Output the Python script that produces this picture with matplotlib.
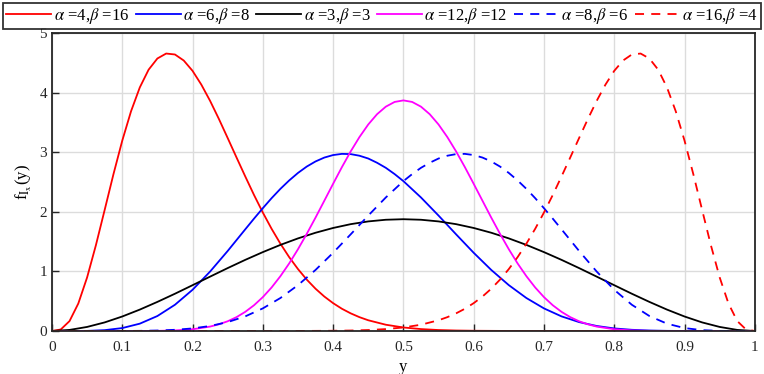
import matplotlib
matplotlib.use("Agg")
import matplotlib.pyplot as plt

plt.rcParams['font.family'] = ['Liberation Serif', 'DejaVu Serif']
plt.rcParams['mathtext.fontset'] = 'stix'

# sample points (denser where the curves bend sharply)
y_red = [0.0, 0.0125, 0.025, 0.0375, 0.05, 0.0625, 0.075, 0.0875, 0.1, 0.1125, 0.125, 0.1375,
         0.15, 0.1625, 0.175, 0.1875, 0.2, 0.2125, 0.225, 0.2375, 0.25, 0.2625, 0.275, 0.2875,
         0.3, 0.3125, 0.325, 0.3375, 0.35, 0.3625, 0.375, 0.3875, 0.4, 0.4125, 0.425, 0.4375,
         0.45, 0.475, 0.5, 0.525, 0.55, 0.575, 0.6, 0.65, 0.7, 1.0]
f_4_16 = [0.0, 0.025, 0.166, 0.461, 0.898, 1.438, 2.031, 2.630, 3.192, 3.685, 4.086, 4.383,
          4.571, 4.654, 4.638, 4.537, 4.364, 4.133, 3.860, 3.557, 3.237, 2.913, 2.593, 2.281,
          1.987, 1.714, 1.465, 1.239, 1.039, 0.862, 0.709, 0.578, 0.467, 0.373, 0.296, 0.232,
          0.180, 0.105, 0.059, 0.032, 0.016, 0.008, 0.004, 0.0006, 0.0, 0.0]

y_red_d = [0.0, 0.3, 0.35, 0.4, 0.425, 0.45, 0.475, 0.5, 0.525, 0.55, 0.5625, 0.575, 0.5875,
           0.6, 0.6125, 0.625, 0.6375, 0.65, 0.6625, 0.675, 0.6875, 0.7, 0.7125, 0.725, 0.7375,
           0.75, 0.7625, 0.775, 0.7875, 0.8, 0.8125, 0.825, 0.8375, 0.85, 0.8625, 0.875, 0.8875,
           0.9, 0.9125, 0.925, 0.9375, 0.95, 0.9625, 0.975, 0.9875, 1.0]
f_16_4 = [0.0, 0.0, 0.0006, 0.004, 0.008, 0.016, 0.032, 0.059, 0.105, 0.180, 0.232, 0.296,
          0.373, 0.467, 0.578, 0.709, 0.862, 1.039, 1.239, 1.465, 1.714, 1.987, 2.281, 2.593,
          2.913, 3.237, 3.557, 3.860, 4.133, 4.364, 4.537, 4.638, 4.654, 4.571, 4.383, 4.086,
          3.685, 3.192, 2.630, 2.031, 1.438, 0.898, 0.461, 0.166, 0.025, 0.0]

y_blue = [0.0, 0.025, 0.05, 0.075, 0.1, 0.125, 0.15, 0.175, 0.2, 0.225, 0.25, 0.275, 0.2875,
          0.3, 0.3125, 0.325, 0.3375, 0.35, 0.3625, 0.375, 0.3875, 0.4, 0.4125, 0.425, 0.4375,
          0.45, 0.4625, 0.475, 0.4875, 0.5, 0.525, 0.55, 0.575, 0.6, 0.625, 0.65, 0.675, 0.7,
          0.725, 0.75, 0.775, 0.8, 0.825, 0.85, 0.875, 0.9, 0.925, 0.95, 0.975, 1.0]
f_6_8 = [0.0, 0.0001, 0.002, 0.014, 0.049, 0.123, 0.251, 0.440, 0.691, 0.997, 1.342, 1.705,
         1.885, 2.060, 2.228, 2.384, 2.525, 2.651, 2.758, 2.844, 2.909, 2.951, 2.971, 2.967,
         2.940, 2.893, 2.822, 2.737, 2.632, 2.514, 2.240, 1.936, 1.621, 1.312, 1.024, 0.769,
         0.553, 0.379, 0.245, 0.149, 0.084, 0.043, 0.020, 0.008, 0.0025, 0.0006, 0.0001, 0.0,
         0.0, 0.0]

y_blue_d = [0.0, 0.025, 0.05, 0.075, 0.1, 0.125, 0.15, 0.175, 0.2, 0.225, 0.25, 0.275, 0.3,
            0.325, 0.35, 0.375, 0.4, 0.425, 0.45, 0.475, 0.5, 0.5125, 0.525, 0.5375, 0.55,
            0.5625, 0.575, 0.5875, 0.6, 0.6125, 0.625, 0.6375, 0.65, 0.6625, 0.675, 0.6875,
            0.7, 0.7125, 0.725, 0.75, 0.775, 0.8, 0.825, 0.85, 0.875, 0.9, 0.925, 0.95, 0.975,
            1.0]
f_8_6 = [0.0, 0.0, 0.0, 0.0001, 0.0006, 0.0025, 0.008, 0.020, 0.043, 0.084, 0.149, 0.245,
         0.379, 0.553, 0.769, 1.024, 1.312, 1.621, 1.936, 2.240, 2.514, 2.632, 2.737, 2.822,
         2.893, 2.940, 2.967, 2.971, 2.951, 2.909, 2.844, 2.758, 2.651, 2.525, 2.384, 2.228,
         2.060, 1.885, 1.705, 1.342, 0.997, 0.691, 0.440, 0.251, 0.123, 0.049, 0.014, 0.002,
         0.0001, 0.0]

y_black = [0.0, 0.025, 0.05, 0.075, 0.1, 0.125, 0.15, 0.175, 0.2, 0.225, 0.25, 0.275, 0.3,
           0.325, 0.35, 0.375, 0.4, 0.425, 0.45, 0.475, 0.5, 0.525, 0.55, 0.575, 0.6, 0.625,
           0.65, 0.675, 0.7, 0.725, 0.75, 0.775, 0.8, 0.825, 0.85, 0.875, 0.9, 0.925, 0.95,
           0.975, 1.0]
f_3_3 = [0.0, 0.018, 0.068, 0.144, 0.243, 0.359, 0.488, 0.625, 0.768, 0.912, 1.055, 1.193,
         1.323, 1.444, 1.553, 1.648, 1.728, 1.792, 1.838, 1.866, 1.875, 1.866, 1.838, 1.792,
         1.728, 1.648, 1.553, 1.444, 1.323, 1.193, 1.055, 0.912, 0.768, 0.625, 0.488, 0.359,
         0.243, 0.144, 0.068, 0.018, 0.0]

y_mag = [0.0, 0.1, 0.125, 0.15, 0.175, 0.2, 0.225, 0.2375, 0.25, 0.2625, 0.275, 0.2875, 0.3,
         0.3125, 0.325, 0.3375, 0.35, 0.3625, 0.375, 0.3875, 0.4, 0.4125, 0.425, 0.4375, 0.45,
         0.4625, 0.475, 0.4875, 0.5, 0.5125, 0.525, 0.5375, 0.55, 0.5625, 0.575, 0.5875, 0.6,
         0.6125, 0.625, 0.6375, 0.65, 0.6625, 0.675, 0.6875, 0.7, 0.7125, 0.725, 0.7375, 0.75,
         0.7625, 0.775, 0.8, 0.825, 0.85, 0.875, 0.9, 1.0]
f_12_12 = [0.0, 0.0, 0.0004, 0.002, 0.009, 0.029, 0.074, 0.112, 0.163, 0.232, 0.321, 0.432,
           0.568, 0.730, 0.919, 1.133, 1.371, 1.629, 1.902, 2.185, 2.469, 2.748, 3.012, 3.253,
           3.464, 3.636, 3.763, 3.842, 3.868, 3.842, 3.763, 3.636, 3.464, 3.253, 3.012, 2.748,
           2.469, 2.185, 1.902, 1.629, 1.371, 1.133, 0.919, 0.730, 0.568, 0.432, 0.321, 0.232,
           0.163, 0.112, 0.074, 0.029, 0.009, 0.002, 0.0004, 0.0, 0.0]

labels = [r'$\alpha$ =4,$\beta$ =16', r'$\alpha$ =6,$\beta$ =8', r'$\alpha$ =3,$\beta$ =3',
          r'$\alpha$ =12,$\beta$ =12', r'$\alpha$ =8,$\beta$ =6', r'$\alpha$ =16,$\beta$ =4']
xs = [y_red, y_blue, y_black, y_mag, y_blue_d, y_red_d]
series = [f_4_16, f_6_8, f_3_3, f_12_12, f_8_6, f_16_4]
colors = ['#ff0000', '#0000ff', '#000000', '#ff00ff', '#0000ff', '#ff0000']
dashed = [False, False, False, False, True, True]

fig = plt.figure(figsize=(7.64, 3.74), dpi=100)
ax = fig.add_axes([0.068, 0.115, 0.92, 0.797])

for xv, s, c, d, lab in zip(xs, series, colors, dashed, labels):
    line, = ax.plot(xv, s, color=c, lw=1.3, label=lab)
    if d:
        line.set_dashes((5, 4))

ax.set_xlim(0, 1)
ax.set_ylim(0, 5)
ax.set_xticks([i / 10 for i in range(11)])
ax.set_xticklabels(['0', '0.1', '0.2', '0.3', '0.4', '0.5', '0.6', '0.7', '0.8', '0.9', '1'])
ax.set_yticks(range(6))
ax.grid(True, color='#dcdcdc', lw=1.0)
ax.set_axisbelow(True)
ax.tick_params(direction='in', length=5, width=1.0, labelsize=11, colors='#262626')
ax.tick_params(axis='x', pad=7)
for sp in ax.spines.values():
    sp.set_linewidth(1.3)
    sp.set_color('#262626')
ax.set_xlabel('y', fontsize=12, labelpad=4)
ax.set_ylabel(r'f$_{\mathrm{I}_{\mathrm{x}}}$(y)', fontsize=12, labelpad=4)

leg = fig.legend(loc='upper left', bbox_to_anchor=(0.004, 0.93, 0.992, 0.063), mode='expand',
                 ncol=6, fontsize=12, frameon=True, fancybox=False, borderpad=0.2,
                 handlelength=2.7, handletextpad=0.15, columnspacing=0.2, borderaxespad=0)
leg.get_frame().set_edgecolor('black')
leg.get_frame().set_linewidth(1.3)

fig.savefig('out.png', dpi=100)
